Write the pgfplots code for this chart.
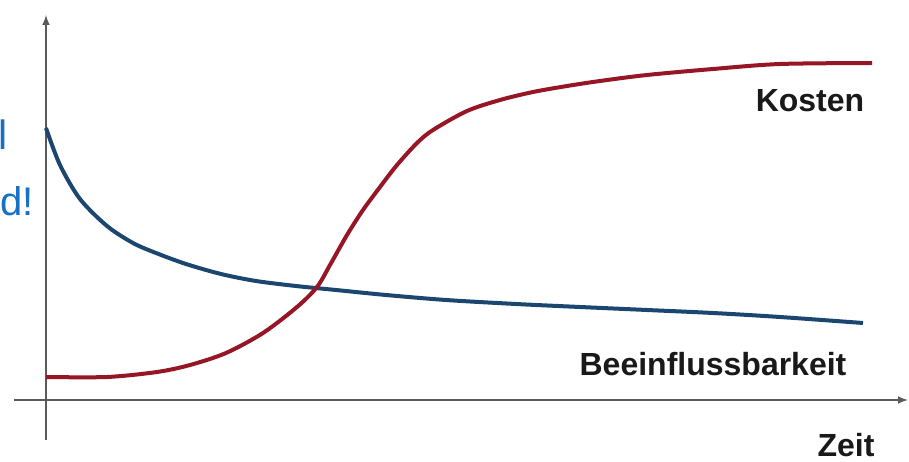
\documentclass[border=0pt]{standalone}
\usepackage{fontspec}
\setmainfont{Liberation Sans}
\usepackage{pgfplots}
\pgfplotsset{compat=1.18}
\definecolor{kurveblau}{RGB}{26,70,112}
\definecolor{kurverot}{RGB}{150,22,38}
\definecolor{textblau}{RGB}{22,112,198}
\definecolor{achse}{RGB}{90,90,90}

\begin{document}
\begin{tikzpicture}
\begin{axis}[
  scale only axis,
  width=447pt, height=212.5pt,
  xmin=-32, xmax=862,
  ymin=-40, ymax=385,
  axis lines=middle,
  axis line style={achse, line width=0.7pt, -latex},
  xtick=\empty, ytick=\empty,
  clip=false,
]
  % Beeinflussbarkeit
  \addplot[kurveblau, line width=2pt, smooth] coordinates {
    (0,272) (14,235) (34,201) (61,174) (87,157) (110,147) (140,136)
    (175,126) (210,119) (250,114) (290,110) (340,105) (400,100)
    (470,96) (534,93) (601,90) (667,87) (734,83) (817,77)
  };
  % Kosten
  \addplot[kurverot, line width=2pt, smooth] coordinates {
    (0,23) (61,23) (111,28) (144,35) (180,47) (217,67) (251,93)
    (271,113) (284,135) (301,165) (317,190) (334,213) (351,235)
    (371,257) (387,270) (421,289) (454,300) (487,308) (521,314)
    (554,319) (601,325) (667,331) (734,336) (826,337)
  };
  \node[anchor=base, font=\fontsize{16}{19}\selectfont\bfseries, text=black!90]
    at (axis cs:764,288) {Kosten};
  \node[anchor=base, font=\fontsize{16}{19}\selectfont\bfseries, text=black!90]
    at (axis cs:667,25) {Beeinflussbarkeit};
  \node[anchor=base, inner sep=0pt, font=\fontsize{16}{19}\selectfont\bfseries, text=black!90]
    at (axis cs:800,-56) {Zeit};
  \node[anchor=base east, inner sep=0pt, font=\fontsize{20.5}{24}\selectfont, text=textblau]
    at (axis cs:-38,250) {l};
  \node[anchor=base east, inner sep=0pt, font=\fontsize{20}{24}\selectfont, text=textblau]
    at (axis cs:-12,185) {d!};
  \coordinate (bbA) at (axis cs:-46,-61);
  \coordinate (bbB) at (axis cs:863,400);
\end{axis}
\pgfresetboundingbox
\path (bbA) rectangle (bbB);
\end{tikzpicture}
\end{document}
